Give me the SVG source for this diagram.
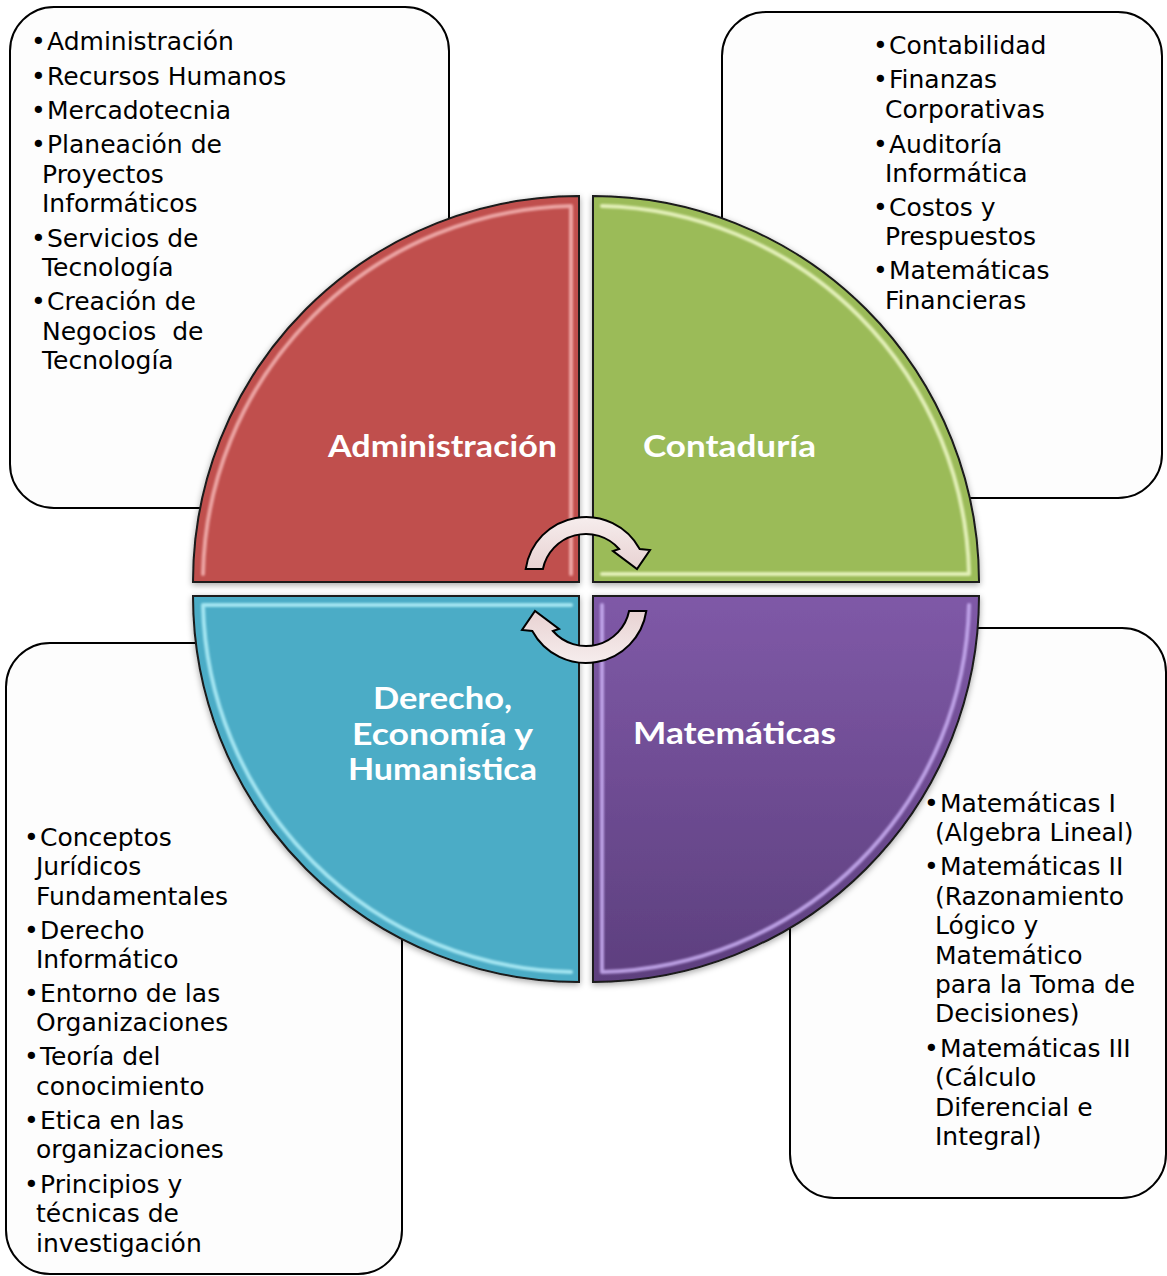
<svg xmlns="http://www.w3.org/2000/svg" width="1167" height="1276" viewBox="0 0 1167 1276">
<defs>
<style>
.box{fill:#FDFDFD;stroke:#000;stroke-width:2}
.q{stroke:#1a1a1a;stroke-width:2}
.t{font-family:"DejaVu Sans","Liberation Sans",sans-serif;font-size:25px;fill:#000}
.lbl{font-family:Lato,"DejaVu Sans",sans-serif;font-weight:bold;font-size:31px;fill:#fff}
.hl{fill:none;stroke-width:4;stroke-linecap:round;stroke-linejoin:round}
.arw{fill:url(#arrowGrad);stroke:#000;stroke-width:2;stroke-linejoin:miter}
</style>
<linearGradient id="purpleGrad" x1="0" y1="0" x2="0" y2="1">
<stop offset="0" stop-color="#7F59A7"/>
<stop offset="1" stop-color="#5D3F7E"/>
</linearGradient>
<linearGradient id="arrowGrad" x1="0" y1="0" x2="0" y2="1">
<stop offset="0" stop-color="#F6EDED"/>
<stop offset="1" stop-color="#E8D2D2"/>
</linearGradient>
<filter id="sh" x="-10%" y="-10%" width="120%" height="120%">
<feDropShadow dx="0" dy="2" stdDeviation="3" flood-color="#000" flood-opacity="0.35"/>
</filter>
<filter id="soft" x="-5%" y="-5%" width="110%" height="110%">
<feGaussianBlur stdDeviation="0.8"/>
</filter>
<path id="arrowShape" d="M525.7,569 A61,61 0 0 1 639.7,549 L650,550 L637,569 L613,551 L619.1,549 A44,44 0 0 0 542.9,569 Z"/>
</defs>

<rect width="1167" height="1276" fill="#fff"/>

<g id="box-administracion">
<rect class="box" x="10" y="7" width="439" height="501" rx="44"/>
<text class="t"><tspan x="31" y="50">•</tspan><tspan x="47" y="50">Administración</tspan></text>
<text class="t"><tspan x="31" y="85">•</tspan><tspan x="47" y="85">Recursos Humanos</tspan></text>
<text class="t"><tspan x="31" y="119">•</tspan><tspan x="47" y="119">Mercadotecnia</tspan></text>
<text class="t"><tspan x="31" y="153">•</tspan><tspan x="47" y="153">Planeación de</tspan></text>
<text class="t" x="42" y="183">Proyectos</text>
<text class="t" x="42" y="212">Informáticos</text>
<text class="t"><tspan x="31" y="247">•</tspan><tspan x="47" y="247">Servicios de</tspan></text>
<text class="t" x="42" y="276">Tecnología</text>
<text class="t"><tspan x="31" y="310">•</tspan><tspan x="47" y="310">Creación de</tspan></text>
<text class="t" x="42" y="340" xml:space="preserve">Negocios  de</text>
<text class="t" x="42" y="369">Tecnología</text>
</g>

<g id="box-contaduria">
<rect class="box" x="722" y="12" width="440" height="486" rx="44"/>
<text class="t"><tspan x="873" y="54">•</tspan><tspan x="889" y="54">Contabilidad</tspan></text>
<text class="t"><tspan x="873" y="88">•</tspan><tspan x="889" y="88">Finanzas</tspan></text>
<text class="t" x="885" y="118">Corporativas</text>
<text class="t"><tspan x="873" y="153">•</tspan><tspan x="889" y="153">Auditoría</tspan></text>
<text class="t" x="885" y="182">Informática</text>
<text class="t"><tspan x="873" y="216">•</tspan><tspan x="889" y="216">Costos y</tspan></text>
<text class="t" x="885" y="245">Prespuestos</text>
<text class="t"><tspan x="873" y="279">•</tspan><tspan x="889" y="279">Matemáticas</tspan></text>
<text class="t" x="885" y="309">Financieras</text>
</g>

<g id="box-derecho">
<rect class="box" x="6" y="643" width="396" height="631" rx="44"/>
<text class="t"><tspan x="24" y="846">•</tspan><tspan x="40" y="846">Conceptos</tspan></text>
<text class="t" x="36" y="875">Jurídicos</text>
<text class="t" x="36" y="905">Fundamentales</text>
<text class="t"><tspan x="24" y="939">•</tspan><tspan x="40" y="939">Derecho</tspan></text>
<text class="t" x="36" y="968">Informático</text>
<text class="t"><tspan x="24" y="1002">•</tspan><tspan x="40" y="1002">Entorno de las</tspan></text>
<text class="t" x="36" y="1031">Organizaciones</text>
<text class="t"><tspan x="24" y="1065">•</tspan><tspan x="40" y="1065">Teoría del</tspan></text>
<text class="t" x="36" y="1095">conocimiento</text>
<text class="t"><tspan x="24" y="1129">•</tspan><tspan x="40" y="1129">Etica en las</tspan></text>
<text class="t" x="36" y="1158">organizaciones</text>
<text class="t"><tspan x="24" y="1193">•</tspan><tspan x="40" y="1193">Principios y</tspan></text>
<text class="t" x="36" y="1222">técnicas de</text>
<text class="t" x="36" y="1252">investigación</text>
</g>

<g id="box-matematicas">
<rect class="box" x="790" y="628" width="376" height="570" rx="44"/>
<text class="t"><tspan x="924" y="812">•</tspan><tspan x="940" y="812">Matemáticas I</tspan></text>
<text class="t" x="935" y="841">(Algebra Lineal)</text>
<text class="t"><tspan x="924" y="875">•</tspan><tspan x="940" y="875">Matemáticas II</tspan></text>
<text class="t" x="935" y="905">(Razonamiento</text>
<text class="t" x="935" y="934">Lógico y</text>
<text class="t" x="935" y="964">Matemático</text>
<text class="t" x="935" y="993">para la Toma de</text>
<text class="t" x="935" y="1022">Decisiones)</text>
<text class="t"><tspan x="924" y="1057">•</tspan><tspan x="940" y="1057">Matemáticas III</tspan></text>
<text class="t" x="935" y="1086">(Cálculo</text>
<text class="t" x="935" y="1116">Diferencial e</text>
<text class="t" x="935" y="1145">Integral)</text>
</g>

<g id="quadrant-administracion">
<path class="q" filter="url(#sh)" fill="#C0504D" d="M579,582 L193,582 A386,386 0 0 1 579,196 Z"/>
<path class="hl" filter="url(#soft)" stroke="#F3B3B1" stroke-opacity="0.85" d="M203,574 A376,376 0 0 1 571,206 L571,574"/>
<text class="lbl" x="328" y="457" textLength="229" lengthAdjust="spacingAndGlyphs">Administración</text>
</g>

<g id="quadrant-contaduria">
<path class="q" filter="url(#sh)" fill="#9BBB59" d="M593,582 L593,196 A386,386 0 0 1 979,582 Z"/>
<path class="hl" filter="url(#soft)" stroke="#EEF8C8" stroke-opacity="0.85" d="M602,206 A376,376 0 0 1 969,574 M602,574 L969,574"/>
<text class="lbl" x="643" y="457" textLength="173" lengthAdjust="spacingAndGlyphs">Contaduría</text>
</g>

<g id="quadrant-derecho">
<path class="q" filter="url(#sh)" fill="#4BACC6" d="M579,596 L579,982 A386,386 0 0 1 193,596 Z"/>
<path class="hl" filter="url(#soft)" stroke="#B2EEF8" stroke-opacity="0.85" d="M571,605 L203,605 A376,376 0 0 0 571,972"/>
<text class="lbl" x="373" y="709" textLength="139" lengthAdjust="spacingAndGlyphs">Derecho,</text>
<text class="lbl" x="352" y="745" textLength="181" lengthAdjust="spacingAndGlyphs">Economía y</text>
<text class="lbl" x="348" y="780" textLength="189" lengthAdjust="spacingAndGlyphs">Humanistica</text>
</g>

<g id="quadrant-matematicas">
<path class="q" filter="url(#sh)" fill="url(#purpleGrad)" d="M593,596 L979,596 A386,386 0 0 1 593,982 Z"/>
<path class="hl" filter="url(#soft)" stroke="#C9AEF2" stroke-opacity="0.85" d="M969,605 A376,376 0 0 1 602,972 L602,605"/>
<text class="lbl" x="633" y="744" textLength="203" lengthAdjust="spacingAndGlyphs">Matemáticas</text>
</g>

<g id="connectors">
<use href="#arrowShape" class="arw"/>
<use href="#arrowShape" class="arw" transform="rotate(180 586 590)"/>
</g>
</svg>
